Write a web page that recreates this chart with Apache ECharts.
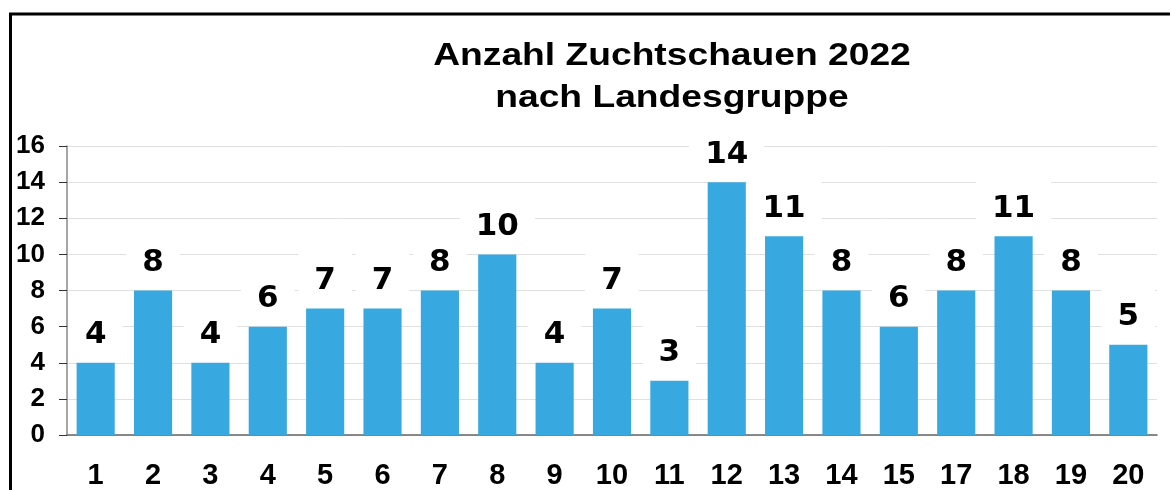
<!DOCTYPE html>
<html>
<head>
<meta charset="utf-8">
<style>
  html, body { margin: 0; padding: 0; background: #fff; }
  #app { width: 1171px; height: 490px; }
</style>
<script src="https://cdn.jsdelivr.net/npm/echarts@6/dist/echarts.min.js"></script>
</head>
<body>
<div id="app"></div>
<script>
// Landesgruppen (16 fehlt im Original)
var categories = ['1', '2', '3', '4', '5', '6', '7', '8', '9', '10',
                  '11', '12', '13', '14', '15', '17', '18', '19', '20'];
// Anzahl Zuchtschauen
var values = [4, 8, 4, 6, 7, 7, 8, 10, 4, 7, 3, 14, 11, 8, 6, 8, 11, 8, 5];
var titleLines = ['Anzahl Zuchtschauen 2022', 'nach Landesgruppe'];

var chart = echarts.init(document.getElementById('app'));

var option = {
    animation: false,
    backgroundColor: '#fff',
    graphic: [
        // Rahmen oben/links
        {
            type: 'polyline',
            shape: { points: [[10.5, 490], [10.5, 14], [1170, 14]] },
            style: { stroke: '#000', lineWidth: 3, fill: null }
        },
        {
            // Titel im Original etwas breit gezogen
            type: 'text',
            x: 672,
            y: 35,
            scaleX: 1.2,
            style: {
                text: titleLines.join('\n'),
                fontSize: 31,
                fontWeight: 'bold',
                fontFamily: 'Liberation Sans',
                lineHeight: 42,
                align: 'center',
                fill: '#000'
            }
        }
    ],
    grid: {
        left: 67,
        right: 14,
        top: 146,
        bottom: 52
    },
    xAxis: {
        type: 'category',
        data: categories,
        axisLine: { lineStyle: { color: '#666', width: 1.5 } },
        axisTick: { length: 10, lineStyle: { color: '#555' } },
        axisLabel: {
            margin: 26,
            color: '#000',
            fontSize: 29,
            fontWeight: 'bold',
            fontFamily: 'Liberation Sans'
        }
    },
    yAxis: {
        type: 'value',
        min: 0,
        max: 16,
        interval: 2,
        axisLine: { show: true, lineStyle: { color: '#888', width: 1.5 } },
        axisTick: { show: true, length: 8, lineStyle: { color: '#333' } },
        splitLine: { lineStyle: { color: '#e0e0e0', width: 1 } },
        axisLabel: {
            margin: 22,
            color: '#000',
            fontSize: 26,
            fontWeight: 'bold',
            fontFamily: 'Liberation Sans'
        }
    },
    series: [{
        type: 'bar',
        data: values,
        barCategoryGap: '33.5%',
        itemStyle: { color: '#38a9e0' },
        label: {
            show: true,
            position: 'top',
            distance: 1,
            color: '#000',
            fontSize: 31,
            fontWeight: 'bold',
            fontFamily: 'DejaVu Sans',
            backgroundColor: '#fff',
            padding: [12, 16, 11, 16]
        }
    }]
};

chart.setOption(option);
</script>
</body>
</html>
